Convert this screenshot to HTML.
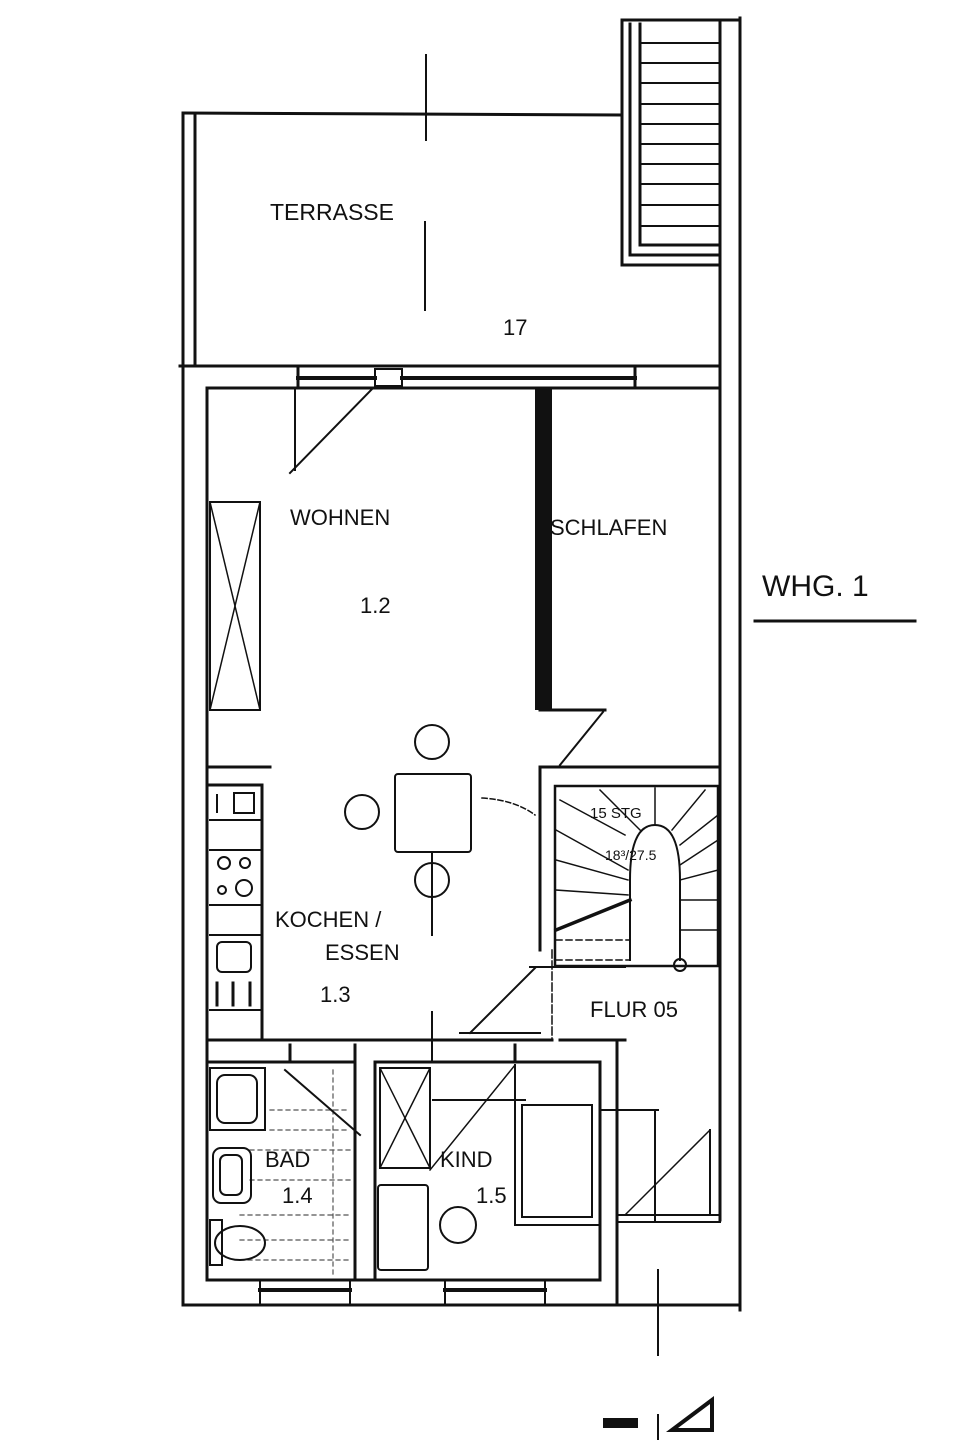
<!DOCTYPE html>
<html><head><meta charset="utf-8"><style>
html,body{margin:0;padding:0;background:#fff}
svg{display:block}
text{font-family:"Liberation Sans",sans-serif;fill:#111}
</style></head><body>
<svg width="959" height="1440" viewBox="0 0 959 1440" xmlns="http://www.w3.org/2000/svg">
<g stroke="#111" stroke-width="3" fill="none" stroke-linecap="square">
<!-- Terrace -->
<line x1="183" y1="113" x2="183" y2="1305"/>
<line x1="195" y1="115" x2="195" y2="365"/>
<line x1="183" y1="113" x2="622" y2="115"/>
<line x1="180" y1="366" x2="720" y2="366"/>
<line x1="740" y1="18" x2="740" y2="1310"/>
<line x1="622" y1="20" x2="740" y2="20"/>
<line x1="622" y1="20" x2="622" y2="265"/>
<line x1="622" y1="265" x2="720" y2="265"/>
<line x1="720" y1="22" x2="720" y2="385"/>
<line x1="630" y1="24" x2="630" y2="255"/>
<line x1="640" y1="24" x2="640" y2="245"/>
<line x1="630" y1="255" x2="720" y2="255"/>
<line x1="640" y1="245" x2="720" y2="245"/>
<g stroke-width="2">
<line x1="640" y1="43" x2="720" y2="43"/>
<line x1="640" y1="63" x2="720" y2="63"/>
<line x1="640" y1="83" x2="720" y2="83"/>
<line x1="640" y1="104" x2="720" y2="104"/>
<line x1="640" y1="124" x2="720" y2="124"/>
<line x1="640" y1="144" x2="720" y2="144"/>
<line x1="640" y1="164" x2="720" y2="164"/>
<line x1="640" y1="184" x2="720" y2="184"/>
<line x1="640" y1="205" x2="720" y2="205"/>
<line x1="640" y1="226" x2="720" y2="226"/>
</g>
<!-- terrace axis -->
<line x1="426" y1="55" x2="426" y2="140" stroke-width="2"/>
<line x1="425" y1="222" x2="425" y2="310" stroke-width="2"/>
<!-- Main top wall with windows -->
<line x1="207" y1="388" x2="720" y2="388"/>
<line x1="298" y1="368" x2="298" y2="388"/>
<line x1="635" y1="368" x2="635" y2="388"/>
<line x1="298" y1="378" x2="375" y2="378" stroke-width="4"/>
<line x1="402" y1="378" x2="635" y2="378" stroke-width="4"/>
<rect x="375" y="369" width="27" height="17" stroke-width="2"/>
<line x1="295" y1="388" x2="295" y2="470" stroke-width="2"/>
<line x1="373" y1="388" x2="290" y2="473" stroke-width="2"/>
<!-- left inner wall -->
<line x1="207" y1="388" x2="207" y2="1280"/>
<!-- Wohnen/Schlafen divider -->
<rect x="535" y="388" width="17" height="322" fill="#111" stroke="none"/>
<line x1="540" y1="710" x2="605" y2="710"/>
<line x1="720" y1="385" x2="720" y2="1220"/>
<line x1="603" y1="712" x2="560" y2="765" stroke-width="2"/>
<line x1="540" y1="767" x2="720" y2="767"/>
<line x1="540" y1="767" x2="540" y2="950"/>
<!-- wardrobe -->
<rect x="210" y="502" width="50" height="208" stroke-width="2"/>
<line x1="210" y1="502" x2="260" y2="710" stroke-width="1.5"/>
<line x1="260" y1="502" x2="210" y2="710" stroke-width="1.5"/>
<!-- kitchen counter -->
<line x1="207" y1="767" x2="270" y2="767"/>
<line x1="210" y1="785" x2="262" y2="785"/>
<line x1="262" y1="785" x2="262" y2="1040"/>
<line x1="210" y1="820" x2="262" y2="820" stroke-width="2"/>
<line x1="210" y1="850" x2="262" y2="850" stroke-width="2"/>
<line x1="210" y1="905" x2="262" y2="905" stroke-width="2"/>
<line x1="210" y1="935" x2="262" y2="935" stroke-width="2"/>
<line x1="210" y1="1010" x2="262" y2="1010" stroke-width="2"/>
<rect x="234" y="793" width="20" height="20" stroke-width="2"/>
<line x1="217" y1="795" x2="217" y2="812" stroke-width="2"/>
<circle cx="224" cy="863" r="6" stroke-width="2"/>
<circle cx="245" cy="863" r="5" stroke-width="2"/>
<circle cx="222" cy="890" r="4" stroke-width="2"/>
<circle cx="244" cy="888" r="8" stroke-width="2"/>
<rect x="217" y="942" width="34" height="30" rx="5" stroke-width="2"/>
<line x1="217" y1="983" x2="217" y2="1005" stroke-width="3"/>
<line x1="233" y1="983" x2="233" y2="1005" stroke-width="3"/>
<line x1="250" y1="983" x2="250" y2="1005" stroke-width="3"/>
<!-- table and chairs -->
<rect x="395" y="774" width="76" height="78" rx="3" stroke-width="2"/>
<circle cx="432" cy="742" r="17" stroke-width="2"/>
<circle cx="362" cy="812" r="17" stroke-width="2"/>
<circle cx="432" cy="880" r="17" stroke-width="2"/>
<line x1="432" y1="852" x2="432" y2="935" stroke-width="2"/>
<line x1="432" y1="1012" x2="432" y2="1060" stroke-width="2"/>
<path d="M482 798 Q515 800 535 815" stroke-width="1.5" stroke-dasharray="5,3"/>
<!-- stair -->
<rect x="555" y="786" width="163" height="180" stroke-width="2.5"/>
<path d="M630 960 L630 880 Q630 825 655 825 Q680 825 680 880 L680 960" stroke-width="2"/>
<g stroke-width="1.5">
<line x1="560" y1="800" x2="625" y2="835"/>
<line x1="600" y1="790" x2="640" y2="830"/>
<line x1="655" y1="788" x2="655" y2="825"/>
<line x1="705" y1="790" x2="672" y2="830"/>
<line x1="718" y1="815" x2="680" y2="845"/>
<line x1="718" y1="840" x2="680" y2="865"/>
<line x1="718" y1="870" x2="680" y2="880"/>
<line x1="718" y1="900" x2="680" y2="900"/>
<line x1="718" y1="930" x2="680" y2="930"/>
<line x1="556" y1="830" x2="628" y2="870"/>
<line x1="556" y1="860" x2="628" y2="880"/>
<line x1="556" y1="890" x2="628" y2="895"/>
<line x1="556" y1="940" x2="630" y2="940" stroke-dasharray="6,4"/>
<line x1="556" y1="960" x2="630" y2="960" stroke-dasharray="6,4"/>
</g>
<line x1="556" y1="930" x2="630" y2="900" stroke-width="3.5"/>
<circle cx="680" cy="965" r="6" stroke-width="2"/>
<line x1="530" y1="967" x2="625" y2="967" stroke-width="2"/>
<line x1="535" y1="968" x2="470" y2="1033" stroke-width="2"/>
<line x1="460" y1="1033" x2="540" y2="1033" stroke-width="2"/>
<line x1="552" y1="950" x2="552" y2="1040" stroke-width="1.5" stroke-dasharray="8,3"/>
<!-- kitchen bottom wall -->
<line x1="207" y1="1040" x2="552" y2="1040"/>
<line x1="560" y1="1040" x2="625" y2="1040"/>
<line x1="207" y1="1062" x2="355" y2="1062"/>
<line x1="375" y1="1062" x2="600" y2="1062"/>
<line x1="290" y1="1045" x2="290" y2="1062"/>
<line x1="355" y1="1045" x2="355" y2="1062"/>
<line x1="515" y1="1045" x2="515" y2="1062"/>
<line x1="617" y1="1040" x2="617" y2="1305"/>
<!-- Bad -->
<line x1="355" y1="1062" x2="355" y2="1280"/>
<g stroke-width="1.2" stroke-dasharray="4,4" stroke="#555">
<line x1="270" y1="1110" x2="350" y2="1110"/>
<line x1="270" y1="1130" x2="350" y2="1130"/>
<line x1="250" y1="1150" x2="350" y2="1150"/>
<line x1="250" y1="1180" x2="350" y2="1180"/>
<line x1="240" y1="1215" x2="350" y2="1215"/>
<line x1="240" y1="1240" x2="350" y2="1240"/>
<line x1="240" y1="1260" x2="350" y2="1260"/>
<line x1="333" y1="1070" x2="333" y2="1278"/>
</g>
<rect x="210" y="1068" width="55" height="62" stroke-width="2"/>
<rect x="217" y="1075" width="40" height="48" rx="8" stroke-width="2"/>
<rect x="213" y="1148" width="38" height="55" rx="8" stroke-width="2"/>
<rect x="220" y="1155" width="22" height="40" rx="6" stroke-width="2"/>
<rect x="210" y="1220" width="12" height="45" stroke-width="2"/>
<ellipse cx="240" cy="1243" rx="25" ry="17" stroke-width="2"/>
<line x1="285" y1="1070" x2="360" y2="1135" stroke-width="2"/>
<!-- Kind -->
<line x1="375" y1="1062" x2="375" y2="1280"/>
<line x1="600" y1="1062" x2="600" y2="1280"/>
<rect x="380" y="1068" width="50" height="100" stroke-width="2"/>
<line x1="380" y1="1068" x2="430" y2="1168" stroke-width="1.5"/>
<line x1="430" y1="1068" x2="380" y2="1168" stroke-width="1.5"/>
<rect x="378" y="1185" width="50" height="85" rx="3" stroke-width="2"/>
<circle cx="458" cy="1225" r="18" stroke-width="2"/>
<line x1="515" y1="1065" x2="515" y2="1225" stroke-width="2"/>
<line x1="515" y1="1225" x2="600" y2="1225" stroke-width="2"/>
<rect x="522" y="1105" width="70" height="112" stroke-width="2"/>
<line x1="433" y1="1100" x2="525" y2="1100" stroke-width="2"/>
<line x1="430" y1="1170" x2="515" y2="1065" stroke-width="1.5"/>
<!-- Flur -->
<line x1="600" y1="1110" x2="658" y2="1110" stroke-width="2"/>
<line x1="655" y1="1110" x2="655" y2="1220" stroke-width="2"/>
<line x1="617" y1="1215" x2="720" y2="1215" stroke-width="2"/>
<line x1="617" y1="1222" x2="720" y2="1222" stroke-width="2"/>
<line x1="710" y1="1130" x2="710" y2="1215" stroke-width="2"/>
<line x1="710" y1="1130" x2="625" y2="1215" stroke-width="1.5"/>
<line x1="658" y1="1270" x2="658" y2="1355" stroke-width="2"/>
<!-- bottom outer wall -->
<line x1="207" y1="1280" x2="600" y2="1280"/>
<line x1="183" y1="1305" x2="740" y2="1305"/>
<line x1="260" y1="1290" x2="350" y2="1290" stroke-width="4"/>
<line x1="445" y1="1290" x2="545" y2="1290" stroke-width="4"/>
<line x1="260" y1="1280" x2="260" y2="1305" stroke-width="2"/>
<line x1="350" y1="1280" x2="350" y2="1305" stroke-width="2"/>
<line x1="445" y1="1280" x2="445" y2="1305" stroke-width="2"/>
<line x1="545" y1="1280" x2="545" y2="1305" stroke-width="2"/>
<!-- WHG underline -->
<line x1="755" y1="621" x2="915" y2="621" stroke-width="3"/>
<!-- bottom marker -->
<rect x="603" y="1418" width="35" height="10" fill="#111" stroke="none"/>
<path d="M712 1400 L672 1430 L712 1430 Z" stroke-width="4"/>
<line x1="658" y1="1415" x2="658" y2="1440" stroke-width="2"/>
</g>
<text x="270" y="220" font-size="23">TERRASSE</text>
<text x="503" y="335" font-size="22">17</text>
<text x="290" y="525" font-size="22">WOHNEN</text>
<text x="360" y="613" font-size="22">1.2</text>
<text x="550" y="535" font-size="22">SCHLAFEN</text>
<text x="762" y="596" font-size="30">WHG. 1</text>
<text x="590" y="818" font-size="15">15 STG</text>
<text x="605" y="860" font-size="14">18³/27.5</text>
<text x="275" y="927" font-size="22">KOCHEN /</text>
<text x="325" y="960" font-size="22">ESSEN</text>
<text x="320" y="1002" font-size="22">1.3</text>
<text x="590" y="1017" font-size="22">FLUR 05</text>
<text x="265" y="1167" font-size="22">BAD</text>
<text x="282" y="1203" font-size="22">1.4</text>
<text x="440" y="1167" font-size="22">KIND</text>
<text x="476" y="1203" font-size="22">1.5</text>
</svg>
</body></html>
